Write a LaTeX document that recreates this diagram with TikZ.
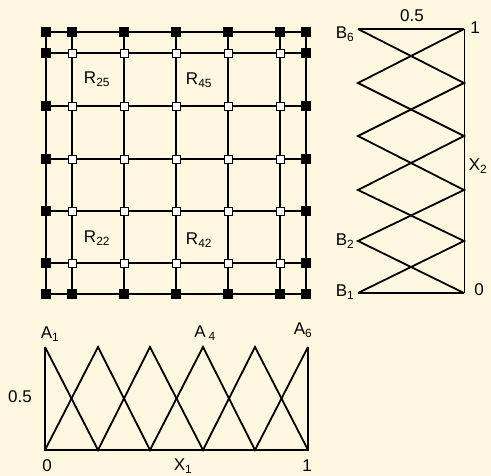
\documentclass[tikz,border=0pt]{standalone}
\usepackage{fontspec}
\setmainfont{Liberation Sans}
\usepackage{xcolor}
\definecolor{paper}{HTML}{FFF7E0}
\tikzset{
  mf/.style={line width=1.8pt,line join=miter},
  gridline/.style={line width=1.4pt},
  lbl/.style={font=\fontsize{17}{17}\selectfont,inner sep=0pt}
}

\begin{document}
\begin{tikzpicture}[x=1pt,y=-1pt]
    \fill[paper] (0,0) rectangle (491,476);
    \useasboundingbox (0,0) rectangle (491,476);
    % grid of rules
    \foreach \x in {46,72,124,176,228,280,306} \draw[gridline] (\x,32) -- (\x,294);
    \foreach \y in {32,53,106,159,211,263,294} \draw[gridline] (46,\y) -- (306,\y);
    \foreach \x in {46,72,124,176,228,280,306} {
      \fill (\x,32) +(-5,-5) rectangle +(5,5);
      \fill (\x,294) +(-5,-5) rectangle +(5,5);
    }
    \foreach \y in {53,106,159,211,263} {
      \fill (46,\y) +(-5,-5) rectangle +(5,5);
      \fill (306,\y) +(-5,-5) rectangle +(5,5);
    }
    \foreach \x in {72,124,176,228,280}
      \foreach \y in {53,106,159,211,263}
        \filldraw[fill=white,line width=0.9pt] (\x,\y) +(-4,-4) rectangle +(4,4);
    \node[lbl] (r25) at (97,79) {R\textsubscript{25}};
    \node[lbl] (r45) at (199,80) {R\textsubscript{45}};
    \node[lbl] (r22) at (97,238) {R\textsubscript{22}};
    \node[lbl] (r42) at (199,240) {R\textsubscript{42}};
    % membership functions of x2
    \draw[gridline] (358,293) -- (464,293);
    \draw[line width=1pt] (464,293) -- (464,29);
    \draw[mf] (358,29) -- (464,29);
    \draw[mf] (464,293) -- (358,241) -- (464,190) -- (358,136) -- (464,83) -- (358,29);
    \draw[mf] (358,293) -- (464,241) -- (358,190) -- (464,136) -- (358,83) -- (464,29);
    \node[lbl] (b6) at (345,34) {B\textsubscript{6}};
    \node[lbl] (b2) at (345,241) {B\textsubscript{2}};
    \node[lbl] (b1) at (345,292) {B\textsubscript{1}};
    \node[lbl] (half2) at (412,16) {0.5};
    \node[lbl] (one2) at (475,28) {1};
    \node[lbl] (zero2) at (479,290) {0};
    \node[lbl] (x2) at (478,166) {X\textsubscript{2}};
    % membership functions of x1
    \draw[gridline] (45,347) -- (45,450) -- (308,450) -- (308,347);
    \draw[mf] (45,347) -- (98,450) -- (150,347) -- (203,450) -- (255,347) -- (308,450);
    \draw[mf] (45,450) -- (98,347) -- (150,450) -- (203,347) -- (255,450) -- (308,347);
    \node[lbl] (a1) at (50,334) {A\textsubscript{1}};
    \node[lbl] (a4) at (205,333) {A\,\textsubscript{4}};
    \node[lbl] (a6) at (303,330) {A\textsubscript{6}};
    \node[lbl] (half1) at (20,397) {0.5};
    \node[lbl] (zero1) at (47,466) {0};
    \node[lbl] (x1) at (183,466) {X\textsubscript{1}};
    \node[lbl] (one1) at (307,466) {1};
\end{tikzpicture}
\end{document}
